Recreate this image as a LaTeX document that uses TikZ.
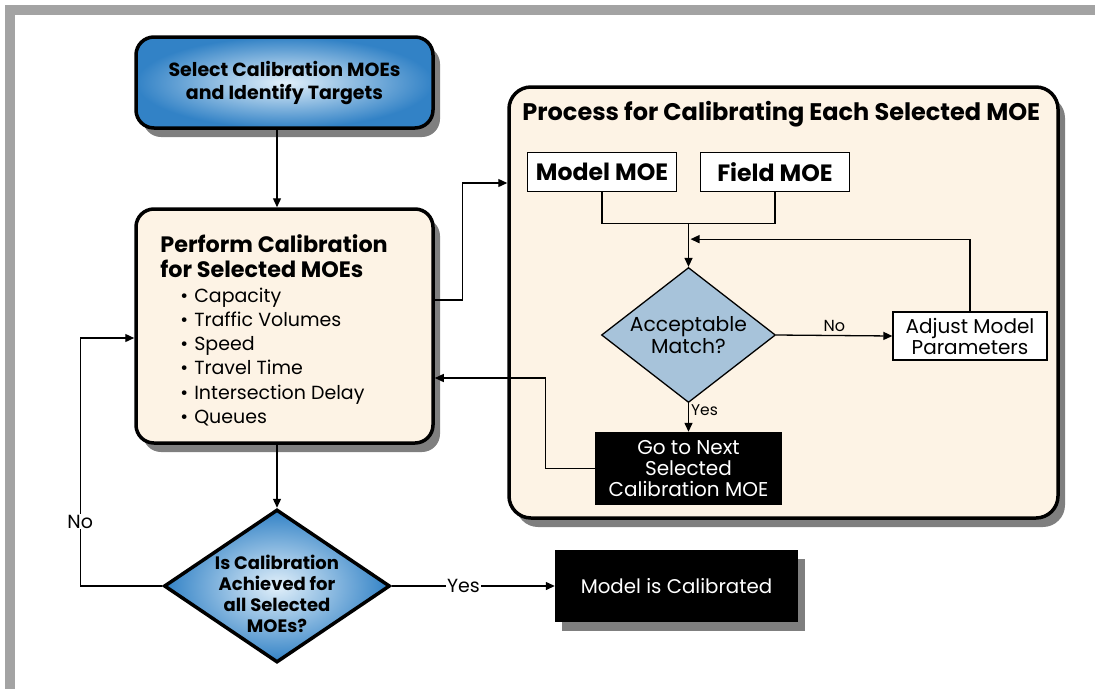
\documentclass[tikz,border=0pt]{standalone}
\usepackage{fontspec}
\setmainfont{Poppins}
\usetikzlibrary{arrows.meta}
\usetikzlibrary{calc}
\usetikzlibrary{shapes.geometric}
\usetikzlibrary{shadows}
\usepackage{xcolor}

\definecolor{cream}{HTML}{FDF3E5}
\definecolor{steel}{HTML}{A7C3DA}
\definecolor{deepblue}{HTML}{3282C6}
\definecolor{paleblue}{HTML}{E2F0FA}
\definecolor{framegray}{HTML}{A3A3A3}

\tikzset{
  flow/.style={line width=1.3pt, -{Triangle[length=9pt,width=8pt]}},
  link/.style={line width=1.3pt},
  shade box/.style={drop shadow={shadow xshift=7pt, shadow yshift=-9pt, opacity=0.5, fill=black}},
  bluebox/.style={draw, line width=3.5pt, rounded corners=18pt, inner color=paleblue, outer color=deepblue, align=center, shade box},
  creambox/.style={draw, line width=3.5pt, rounded corners=18pt, fill=cream, shade box},
  whitebox/.style={draw, line width=1.3pt, fill=white, align=center, inner sep=0pt},
  blackbox/.style={fill=black, text=white, align=center, inner sep=0pt},
  choice/.style={diamond, draw, inner sep=0pt},
}

\begin{document}
\begin{tikzpicture}[x=1pt,y=-1pt]
        \useasboundingbox (0,0) rectangle (1095,689);

        % Frame
        \fill[framegray] (5,5) rectangle (1095,15);
        \fill[framegray] (5,5) rectangle (15,689);

        % Left column
        \node[bluebox, minimum width=297pt, minimum height=91pt,
              font=\bfseries\fontsize{19}{23}\selectfont] (select) at (284.5,82.5)
              {Select Calibration MOEs\\and Identify Targets};
        \node[creambox, minimum width=297pt, minimum height=234pt] (perform) at (284.5,326) {};
        \node[anchor=north west, align=left, inner sep=0pt,
              font=\bfseries\fontsize{22.3}{25}\selectfont] (ptitle) at ($(perform.north west)+(26,27)$)
              {Perform Calibration\\for Selected MOEs};
        \foreach \item [count=\i from 0] in {Capacity, Traffic Volumes, Speed, Travel Time, Intersection Delay, Queues}
        {
          \node[anchor=base west, inner sep=0pt, font=\fontsize{19}{22}\selectfont] (item\i)
                at ($(perform.north west)+(46,95+24.2*\i)$) {•\hspace{6pt}\item};
        }
        \node[choice, minimum width=226pt, minimum height=153pt, line width=3.5pt,
              inner color=paleblue, outer color=deepblue,
              label={[align=center, yshift=-8pt, font=\bfseries\fontsize{18}{21}\selectfont]center:Is Calibration\\Achieved for\\all Selected\\MOEs?}] (cal) at (277,586) {};
        \node[blackbox, minimum width=243pt, minimum height=72pt, shade box,
              font=\fontsize{19.8}{22}\selectfont] (done) at (676.5,586) {Model is Calibrated};

        % Process for each MOE
        \node[creambox, rounded corners=22pt, minimum width=549pt, minimum height=431pt] (process) at (783.5,302.5) {};
        \node[anchor=base west, inner sep=0pt, font=\bfseries\fontsize{24}{28}\selectfont] (qtitle)
              at ($(process.north west)+(15,35.3)$) {Process for Calibrating Each Selected MOE};
        \node[whitebox, minimum width=149pt, minimum height=39pt,
              font=\bfseries\fontsize{23.6}{26}\selectfont] (model) at (602,172) {Model MOE};
        \node[whitebox, minimum width=149pt, minimum height=39pt,
              font=\bfseries\fontsize{23.6}{26}\selectfont] (field) at (775,172) {Field MOE};
        \node[choice, minimum width=174pt, minimum height=135pt, line width=1.3pt, fill=steel,
              label={[align=center, font=\fontsize{20.3}{22}\selectfont]center:Acceptable\\Match?}] (match) at (688.5,335) {};
        \node[whitebox, minimum width=154pt, minimum height=48pt,
              font=\fontsize{20}{21}\selectfont] (adjust) at (970,336) {Adjust Model\\Parameters};
        \node[blackbox, minimum width=187pt, minimum height=73pt,
              font=\fontsize{20}{21}\selectfont] (next) at (688.5,468.5)
              {Go to Next\\Selected\\Calibration MOE};

        % Connectors
        \draw[flow] (cal |- select.south) -- (cal |- perform.north);
        \draw[flow] ([yshift=26pt]perform.east) -- ++(28,0) |- ([yshift=119.5pt]process.west);
        \coordinate (join) at ($(model.south)!0.5!(field.south)+(0,31)$);
        \draw[link] (model.south) |- (join) -| (field.south);
        \draw[flow] (join) -- (match.north);
        \draw[flow] (adjust.north) |- ($(join)+(2,16)$);
        \draw[flow] (match.east) -- node[above, font=\fontsize{16}{18}\selectfont] {No} (adjust.west);
        \draw[flow] (match.south) -- node[right, pos=0.25, inner sep=2pt, font=\fontsize{15.5}{18}\selectfont] {Yes} (next.north);
        \draw[flow] (next.west) -- ++(-49,0) |- ([yshift=-52pt]perform.east);
        \draw[flow] (cal |- perform.south) -- (cal.north);
        \draw[flow] (cal.west) -- ++(-82,0) |- node[pos=0.13, fill=white, inner sep=1pt,
              font=\fontsize{19}{21}\selectfont] {No} ([yshift=-12pt]perform.west);
        \draw[flow] (cal.east) -- node[pos=0.44, fill=white, inner sep=1pt,
              font=\fontsize{19}{21}\selectfont] {Yes} (done.west);
\end{tikzpicture}
\end{document}
